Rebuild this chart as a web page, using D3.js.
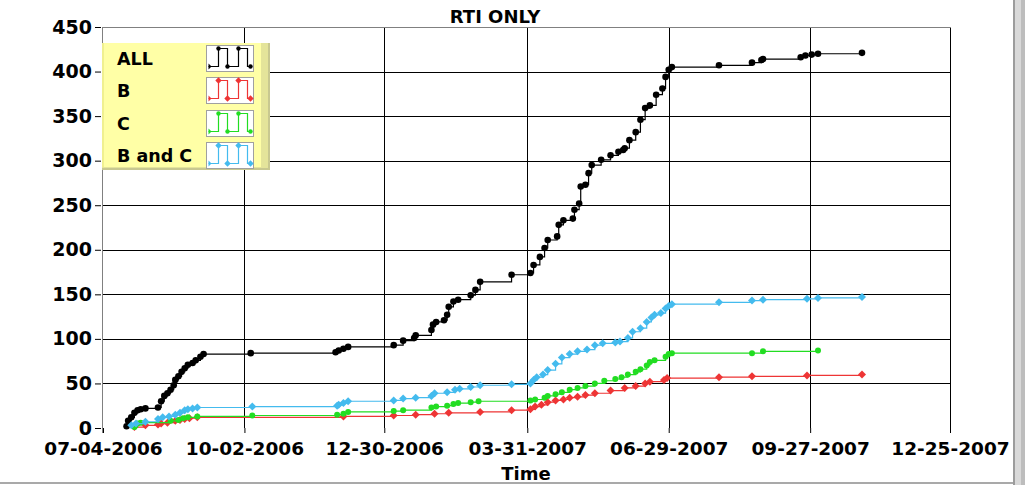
<!DOCTYPE html>
<html>
<head>
<meta charset="utf-8">
<script src="https://cdn.jsdelivr.net/npm/d3@7"></script>
<style>
  html, body { margin: 0; padding: 0; background: #fff; }
  svg { display: block; }
  text { font-family: "DejaVu Sans", Verdana, sans-serif; font-weight: bold; }
</style>
</head>
<body>
<svg id="chart" width="1025" height="485"></svg>
<script>
// ---------------- DATA ----------------
const chartTitle = "RTI ONLY";
const xAxisTitle = "Time";
const xTickLabels = ["07-04-2006","10-02-2006","12-30-2006","03-31-2007","06-29-2007","09-27-2007","12-25-2007"];
const yTickValues = [0,50,100,150,200,250,300,350,400,450];
const seriesNames = ["ALL","B","C","B and C"];
const seriesColors = ["#000000","#ee3535","#22dd22","#44bbee"];
const seriesMarkers = ["circle","diamond","circle","diamond"];

const seriesAll = [
  ["2006-07-19",2],["2006-07-20",8],["2006-07-22",12],["2006-07-24",17],["2006-07-26",20],
  ["2006-07-28",21],["2006-07-31",22],["2006-08-08",23],["2006-08-10",30],["2006-08-12",36],
  ["2006-08-14",39],["2006-08-16",43],["2006-08-18",48],["2006-08-19",54],["2006-08-21",58],
  ["2006-08-23",63],["2006-08-25",67],["2006-08-27",71],["2006-08-30",73],["2006-09-01",76],
  ["2006-09-04",80],["2006-09-06",83],["2006-10-06",84],["2006-11-29",85],["2006-12-01",87],
  ["2006-12-04",89],["2006-12-07",91],["2007-01-05",93],["2007-01-11",98],["2007-01-18",101],
  ["2007-01-19",104],["2007-01-29",110],["2007-01-30",116],["2007-02-01",119],["2007-02-06",121],
  ["2007-02-08",127],["2007-02-09",136],["2007-02-12",142],["2007-02-15",144],["2007-02-23",149],
  ["2007-02-26",155],["2007-03-01",164],["2007-03-21",172],["2007-04-02",174],["2007-04-04",183],
  ["2007-04-08",192],["2007-04-11",202],["2007-04-13",211],["2007-04-19",215],["2007-04-20",228],
  ["2007-04-23",233],["2007-04-29",235],["2007-04-30",245],["2007-05-03",252],["2007-05-04",271],
  ["2007-05-07",273],["2007-05-09",286],["2007-05-11",295],["2007-05-17",301],["2007-05-23",306],
  ["2007-05-28",310],["2007-05-31",312],["2007-06-01",314],["2007-06-04",323],["2007-06-08",332],
  ["2007-06-11",346],["2007-06-14",359],["2007-06-17",362],["2007-06-21",374],["2007-06-25",381],
  ["2007-06-27",394],["2007-06-29",402],["2007-07-01",405],["2007-07-31",407],["2007-08-21",410],
  ["2007-08-27",413],["2007-08-28",414],["2007-09-21",416],["2007-09-24",418],["2007-09-28",419],
  ["2007-10-02",420],["2007-10-30",421]
];
const seriesB = [
  ["2006-07-24",1],["2006-07-31",3],["2006-08-08",4],["2006-08-10",5],["2006-08-14",6],
  ["2006-08-19",8],["2006-08-22",9],["2006-08-25",10],["2006-08-28",11],["2006-09-02",12],
  ["2006-12-04",13],["2007-01-05",14],["2007-01-19",15],["2007-01-31",16],["2007-02-09",17],
  ["2007-03-01",18],["2007-03-21",20],["2007-04-02",21],["2007-04-05",24],["2007-04-09",26],
  ["2007-04-13",29],["2007-04-18",31],["2007-04-23",32],["2007-04-27",34],["2007-05-02",35],
  ["2007-05-07",37],["2007-05-13",39],["2007-05-23",42],["2007-06-01",45],["2007-06-08",47],
  ["2007-06-14",50],["2007-06-17",52],["2007-06-26",54],["2007-06-28",56],["2007-07-31",57],
  ["2007-08-21",58],["2007-09-25",59],["2007-10-30",60]
];
const seriesC = [
  ["2006-07-24",1],["2006-07-26",5],["2006-07-28",6],["2006-08-16",8],["2006-08-21",9],
  ["2006-08-24",11],["2006-08-27",12],["2006-09-02",13],["2006-10-07",14],["2006-11-30",15],
  ["2006-12-04",16],["2006-12-07",18],["2007-01-05",19],["2007-01-11",20],["2007-01-29",23],
  ["2007-02-01",24],["2007-02-08",25],["2007-02-12",27],["2007-02-15",28],["2007-02-23",29],
  ["2007-02-28",30],["2007-04-02",31],["2007-04-05",32],["2007-04-11",34],["2007-04-13",36],
  ["2007-04-18",38],["2007-04-22",40],["2007-04-27",43],["2007-05-02",45],["2007-05-07",47],
  ["2007-05-13",50],["2007-05-19",53],["2007-05-26",55],["2007-05-30",57],["2007-06-03",60],
  ["2007-06-08",63],["2007-06-11",66],["2007-06-15",70],["2007-06-17",74],["2007-06-20",76],
  ["2007-06-27",80],["2007-06-29",83],["2007-07-01",84],["2007-08-21",84],["2007-08-28",86],
  ["2007-10-02",87]
];
const seriesBC = [
  ["2006-07-22",3],["2006-07-25",5],["2006-07-31",7],["2006-08-08",10],["2006-08-11",12],
  ["2006-08-15",13],["2006-08-19",15],["2006-08-22",17],["2006-08-25",20],["2006-08-27",21],
  ["2006-08-30",22],["2006-09-02",23],["2006-10-07",24],["2006-11-30",25],["2006-12-01",26],
  ["2006-12-04",28],["2006-12-07",30],["2007-01-05",31],["2007-01-11",33],["2007-01-19",34],
  ["2007-01-29",36],["2007-01-31",39],["2007-02-08",40],["2007-02-13",43],["2007-02-16",44],
  ["2007-02-23",46],["2007-03-01",48],["2007-03-21",49],["2007-04-02",50],["2007-04-04",54],
  ["2007-04-06",57],["2007-04-10",60],["2007-04-13",65],["2007-04-18",72],["2007-04-22",79],
  ["2007-04-27",83],["2007-05-02",86],["2007-05-08",88],["2007-05-13",93],["2007-05-18",95],
  ["2007-05-26",96],["2007-05-29",97],["2007-06-03",101],["2007-06-06",108],["2007-06-11",112],
  ["2007-06-15",119],["2007-06-18",124],["2007-06-20",127],["2007-06-24",129],["2007-06-27",134],
  ["2007-06-29",137],["2007-07-01",139],["2007-07-31",141],["2007-08-21",143],["2007-08-28",144],
  ["2007-09-25",145],["2007-10-02",146],["2007-10-30",147]
];
const seriesData = [seriesAll, seriesB, seriesC, seriesBC];

// ---------------- DRAW ----------------
const svg = d3.select("#chart");
const parseISO = d3.timeParse("%Y-%m-%d");
const parseTick = d3.timeParse("%m-%d-%Y");
const tickDates = xTickLabels.map(parseTick);

const plot = { left: 102, right: 951, top: 27, bottom: 428 };
const x = d3.scaleTime()
  .domain([tickDates[0], tickDates[tickDates.length - 1]])
  .range([103, 950]);
const y = d3.scaleLinear().domain([0, 450]).range([plot.bottom, plot.top]);

// window frame
svg.append("rect").attr("x", 0).attr("y", 482).attr("width", 1014).attr("height", 2).attr("fill", "#a9a9a9");
svg.append("rect").attr("x", 1013).attr("y", 0).attr("width", 2).attr("height", 485).attr("fill", "#9c9c9c");
svg.append("rect").attr("x", 1015).attr("y", 0).attr("width", 6).attr("height", 485).attr("fill", "#d9d9d9");
svg.append("rect").attr("x", 1021).attr("y", 0).attr("width", 4).attr("height", 485).attr("fill", "#bdbdbd");

// grid
const grid = svg.append("g");
yTickValues.filter(v => v > 0 && v < 450).forEach(v => {
  grid.append("line").attr("x1", plot.left).attr("x2", plot.right)
    .attr("y1", Math.round(y(v)) + 0.5).attr("y2", Math.round(y(v)) + 0.5)
    .attr("stroke", "#000").attr("stroke-width", 1);
});
tickDates.slice(1).forEach(d => {
  grid.append("line").attr("x1", Math.round(x(d)) + 0.5).attr("x2", Math.round(x(d)) + 0.5)
    .attr("y1", plot.top).attr("y2", plot.bottom)
    .attr("stroke", "#000").attr("stroke-width", 1);
});
// frame top and left
svg.append("line").attr("x1", plot.left).attr("x2", plot.right).attr("y1", plot.top + 0.5).attr("y2", plot.top + 0.5)
  .attr("stroke", "#808080");
svg.append("line").attr("x1", plot.left + 0.5).attr("x2", plot.left + 0.5).attr("y1", plot.top).attr("y2", plot.bottom + 5)
  .attr("stroke", "#808080");

// axes
const yAxis = svg.append("g").attr("transform", `translate(${plot.left},0)`)
  .call(d3.axisLeft(y).tickValues(yTickValues).tickSize(6).tickPadding(3));
yAxis.select(".domain").remove();
yAxis.selectAll("line").attr("stroke", "#000").attr("transform", "translate(-1,0)");
yAxis.selectAll("text").attr("font-size", 19).attr("fill", "#000").attr("dx", -1)
  .style("font-family", "'DejaVu Sans', Verdana, sans-serif").style("font-weight", "bold");

const xAxis = svg.append("g").attr("transform", `translate(0,${plot.bottom})`)
  .call(d3.axisBottom(x).tickValues(tickDates).tickFormat((d, i) => xTickLabels[i]).tickSize(5).tickPadding(9));
xAxis.select(".domain").remove();
xAxis.selectAll("line").attr("stroke", "#000");
xAxis.selectAll("text").attr("font-size", 18.5).attr("fill", "#000")
  .style("font-family", "'DejaVu Sans', Verdana, sans-serif").style("font-weight", "bold");

// titles
svg.append("text").attr("x", 495).attr("y", 23).attr("text-anchor", "middle")
  .attr("font-size", 18).text(chartTitle);
svg.append("text").attr("x", 526).attr("y", 480).attr("text-anchor", "middle")
  .attr("font-size", 18).text(xAxisTitle);

// series
const line = d3.line().curve(d3.curveStepAfter)
  .x(d => x(parseISO(d[0]))).y(d => y(d[1]));
function marker(g, type, cx, cy, color, r) {
  if (type === "circle") {
    g.append("circle").attr("cx", cx).attr("cy", cy).attr("r", r).attr("fill", color);
  } else {
    const s = r + 1;
    g.append("path").attr("d", `M${cx},${cy - s}L${cx + s},${cy}L${cx},${cy + s}L${cx - s},${cy}Z`).attr("fill", color);
  }
}
seriesData.forEach((data, i) => {
  const g = svg.append("g");
  g.append("path").attr("d", line(data)).attr("fill", "none")
    .attr("stroke", seriesColors[i]).attr("stroke-width", 1.2);
  data.forEach(d => marker(g, seriesMarkers[i], x(parseISO(d[0])), y(d[1]), seriesColors[i], i === 0 ? 3.3 : 3));
});

// legend
const lg = svg.append("g");
lg.append("rect").attr("x", 102).attr("y", 43).attr("width", 168).attr("height", 127).attr("fill", "#c8c890");
lg.append("rect").attr("x", 102).attr("y", 43).attr("width", 166).attr("height", 125).attr("fill", "#e4e49a");
lg.append("rect").attr("x", 102).attr("y", 43).attr("width", 159).attr("height", 124).attr("fill", "#ffffa6");
lg.append("rect").attr("x", 102).attr("y", 43).attr("width", 2).attr("height", 124).attr("fill", "#f0f090");
seriesNames.forEach((name, i) => {
  const top = 45 + i * 32.3;
  lg.append("text").attr("x", 117).attr("y", top + 20).attr("font-size", 17.5).text(name);
  const bx = 206.5, by = Math.round(top) + 0.5, bw = 47, bh = 26;
  lg.append("rect").attr("x", bx).attr("y", by).attr("width", bw).attr("height", bh)
    .attr("fill", "#fff").attr("stroke", "#a0a0a0");
  const t = by + 3, b = by + 21;
  const xs = [bx + 2, bx + 12, bx + 21, bx + 32, bx + 41, bx + 44];
  lg.append("path").attr("d", `M${xs[0]},${b}H${xs[1]}V${t}H${xs[2]}V${b}H${xs[3]}V${t}H${xs[4]}V${b}H${xs[5]}`)
    .attr("fill", "none").attr("stroke", seriesColors[i]).attr("stroke-width", 1.2);
  [[xs[1], t], [xs[2], b], [xs[3], t], [xs[5], b]].forEach(p => marker(lg, seriesMarkers[i], p[0], p[1], seriesColors[i], 2.2));
  lg.append("path").attr("d", `M${xs[0]},${b - 3}L${xs[0] + 3},${b}L${xs[0]},${b + 3}Z`).attr("fill", seriesColors[i]);
});
</script>
</body>
</html>
